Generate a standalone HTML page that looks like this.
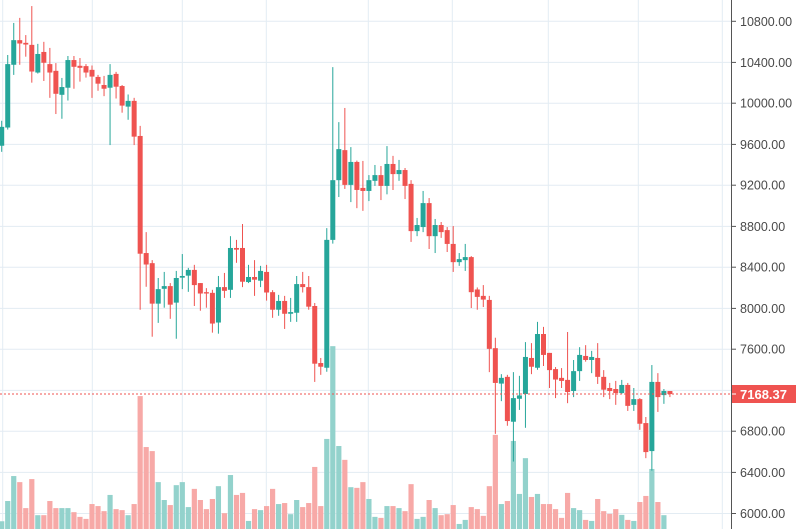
<!DOCTYPE html>
<html><head><meta charset="utf-8"><style>
html,body{margin:0;padding:0;background:#fff;}
svg{display:block;font-family:"Liberation Sans",sans-serif;}
</style></head><body>
<svg id="s" width="796" height="529" xmlns="http://www.w3.org/2000/svg"></svg>
<script>
const D=[
['g',376,432,358,450,1545],['g',190,378,163,384,1485],['g',119,192,68,222,1411],['r',119,129,53,192,1429],['r',127,132,104,168,1506],
['r',133,212,18,245,1420],['g',160,215,130,218,1527],['r',154,186,124,240,1527],['r',190,215,142,290,1485],['r',210,278,187,338,1506],
['g',258,281,231,352,1506],['g',178,260,166,298,1506],['r',178,198,166,263,1518],['r',195,201,172,242,1532],['r',196,215,190,230,1538],
['r',207,227,194,290,1494],['r',228,248,222,269,1500],['r',252,263,225,285,1515],['g',222,260,190,430,1467],['r',219,257,213,292,1509],
['r',255,313,252,334,1512],['g',299,316,280,355,1527],['r',299,405,290,430,1494],['r',403,752,373,918,1174],['r',750,784,688,850,1325],
['r',780,900,771,998,1337],['g',857,900,824,957,1429],['g',848,856,806,912,1482],['r',848,903,839,945,1497],['g',824,897,803,1004,1438],
['g',818,823,753,857,1429],['g',800,817,794,865,1503],['r',800,845,785,907,1449],['r',839,870,839,921,1482],['r',866,870,854,912,1509],
['r',868,959,859,986,1479],['g',851,956,818,989,1441],['r',851,862,809,883,1521],['g',735,859,700,883,1408],['r',735,740,711,779,1467],
['r',735,835,664,851,1461],['g',821,836,785,839,1544],['r',821,829,771,877,1509],['g',803,832,788,851,1512],['r',806,867,785,891,1500],
['r',866,918,860,942,1449],['g',892,918,874,936,1494],['r',892,930,877,975,1491],['g',925,930,883,954,1524],['g',842,927,818,954,1482],
['r',842,851,806,867,1503],['r',851,909,818,918,1491],['r',907,1078,898,1132,1384],['r',1076,1087,1061,1111,1500],['g',711,1090,676,1102,1301],
['g',534,711,199,722,1026],['g',442,534,362,584,1322],['r',445,548,320,560,1363],['g',480,548,436,599,1444],['r',480,563,476,617,1446],
['r',557,566,477,625,1429],['g',534,566,519,596,1479],['g',519,536,489,551,1532],['r',519,551,492,593,1535],['g',486,551,433,576,1500],
['r',486,516,462,563,1500],['g',504,516,474,536,1506],['r',504,551,498,590,1515],['r',545,685,534,717,1435],['g',667,685,646,700,1538],
['g',602,673,566,688,1532],['r',602,700,587,738,1482],['g',667,700,649,750,1506],['r',667,688,658,705,1527],['r',682,723,673,747,1524],
['r',723,777,670,806,1497],['g',768,777,750,788,1553],['g',762,771,723,803,1541],['r',762,866,759,913,1503],['r',858,880,852,918,1509],
['r',877,888,845,910,1529],['r',889,1034,877,1103,1441],['r',1032,1135,1001,1286,1289],['g',1120,1137,1109,1189,1494],['r',1117,1248,1111,1262,1485],
['g',1180,1250,1103,1368,1307],['g',1172,1182,1114,1215,1464],['g',1058,1168,1014,1268,1358],['r',1061,1087,1017,1109,1473],['g',990,1090,954,1096,1464],
['r',990,1052,969,1085,1494],['r',1046,1097,1046,1150,1494],['r',1094,1125,1088,1180,1509],['r',1120,1129,1091,1150,1535],['r',1126,1162,984,1195,1461],
['g',1100,1159,1067,1177,1506],['g',1052,1100,1029,1129,1512],['r',1055,1067,1023,1072,1541],['g',1058,1067,1040,1106,1544],['r',1061,1117,1017,1138,1479],
['r',1117,1155,1097,1177,1515],['r',1150,1159,1135,1183,1523],['r',1153,1165,1129,1200,1509],['g',1141,1165,1126,1168,1526],['r',1141,1203,1135,1218,1541],
['g',1183,1200,1150,1218,1544],['r',1183,1256,1180,1274,1488],['r',1254,1340,1236,1358,1470],['g',1132,1337,1082,1395,1390],['r',1132,1177,1106,1221,1488],
['g',1159,1171,1153,1197,1527],['r',1159,1168,1159,1177,1568]];
const S=2.964;let h='';
const hy=[21.3,62.4,103.2,144.4,185.2,226.4,267.2,308.4,349.2,390.4,431.2,472.4,513.5];
const labs=['10800.00','10400.00','10000.00','9600.00','9200.00','8800.00','8400.00','8000.00','7600.00','7200.00','6800.00','6400.00','6000.00'];
hy.forEach(y=>{h+=`<line x1="0" x2="731" y1="${y}" y2="${y}" stroke="#e3ecf3" stroke-width="1"/>`;});
[2.7,92.3,182.3,266.3,368.3,452.3,548.3,638.3,722.3].forEach(x=>{h+=`<line x1="${x}" x2="${x}" y1="0" y2="529" stroke="#e3ecf3" stroke-width="1"/>`;});
D.forEach((d,i)=>{const x=1.7+i*6.02;
 const vc=d[0]=='g'?'#93d2cc':'#f7a9a7';
 const vt=d[5]/S; h+=`<rect x="${x-2.6}" y="${vt}" width="5.2" height="${529-vt}" fill="${vc}"/>`;});
D.forEach((d,i)=>{const x=1.7+i*6.02;const c=d[0]=='g'?'#26a69a':'#ef5350';
 h+=`<line x1="${x}" x2="${x}" y1="${d[3]/S}" y2="${d[4]/S}" stroke="${c}" stroke-width="1"/>`;
 const bt=d[1]/S,bb=d[2]/S;h+=`<rect x="${x-2.5}" y="${bt}" width="5" height="${Math.max(1,bb-bt)}" fill="${c}"/>`;});
h+=`<line x1="0" x2="731" y1="394" y2="394" stroke="#ef5350" stroke-width="1" stroke-dasharray="2,2"/>`;
h+=`<rect x="731.5" y="0" width="65" height="529" fill="#fff"/>`;
h+=`<line x1="731.5" x2="731.5" y1="0" y2="529" stroke="#555" stroke-width="1"/>`;
hy.forEach((y,i)=>{if(i==9)return;h+=`<line x1="732" x2="736" y1="${y}" y2="${y}" stroke="#555"/><text x="740" y="${y+4.5}" font-size="12.5" fill="#4a4a4a">${labs[i]}</text>`;});
h+=`<rect x="732" y="385" width="64" height="18" fill="#ef5350"/><line x1="732" x2="736" y1="394" y2="394" stroke="#fff"/>`;
h+=`<text x="740" y="399" font-size="13" font-weight="bold" fill="#fff">7168.37</text>`;
document.getElementById('s').innerHTML=h;
</script>
</body></html>
